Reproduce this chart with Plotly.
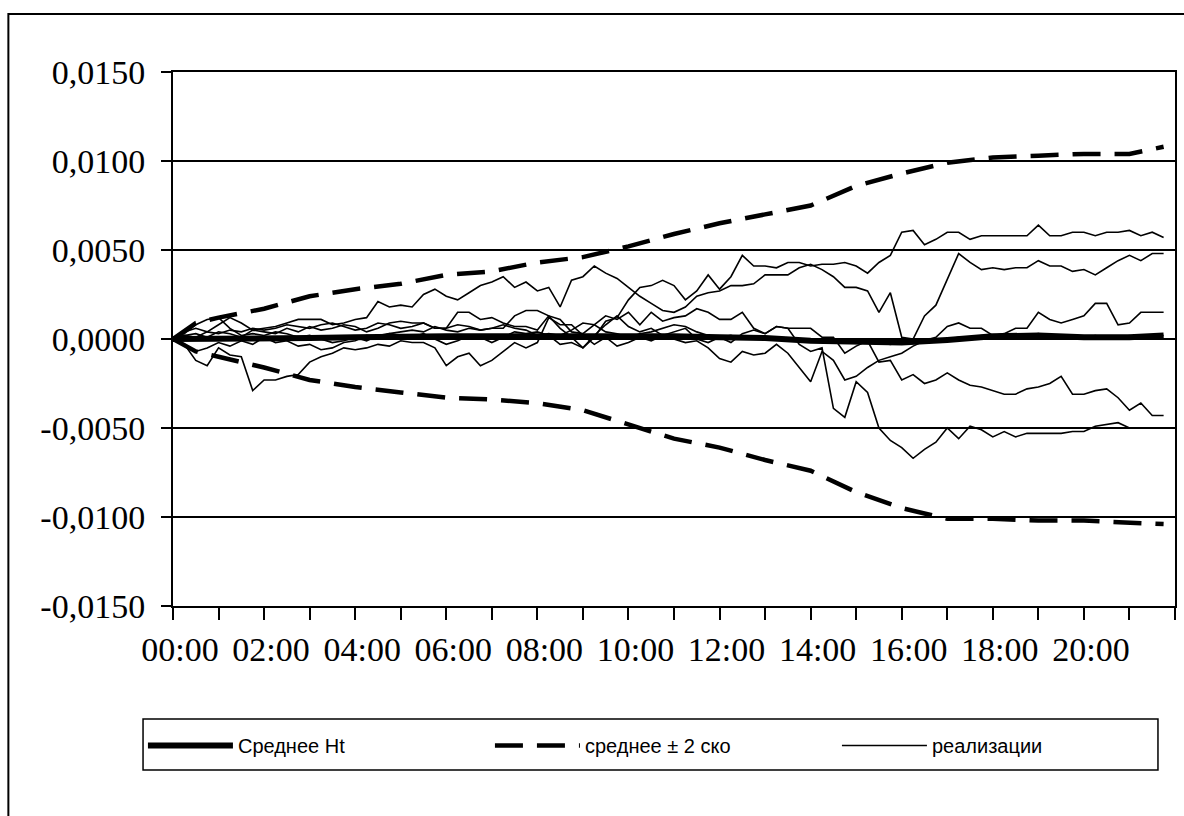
import plotly.graph_objects as go

# ---------------- data ----------------
step_hours = 0.25  # 15-minute observations
n_points = 88      # 00:00 .. 21:45

real_A = [0, 0.0002, 0.0001, 0.0004, 0.0003, 0.0005, 0.0004, 0.0006,
          0.0005, 0.0006, 0.0008, 0.0007, 0.0006, 0.0008, 0.0009, 0.0007,
          0.0005, 0.0006, 0.0009, 0.0008, 0.0006, 0.0007, 0.0009, 0.0006,
          0.0006, 0.0008, 0.0007, 0.0005, 0.0006, 0.0006, 0.0013, 0.0016,
          0.0016, 0.0013, 0.0006, 0.0001, -0.0005, 0.0001, 0.0010, 0.0012,
          0.0022, 0.0029, 0.0030, 0.0033, 0.0030, 0.0022, 0.0027, 0.0036,
          0.0028, 0.0035, 0.0047, 0.0041, 0.0041, 0.0040, 0.0043, 0.0043,
          0.0041, 0.0042, 0.0042, 0.0043, 0.0041, 0.0037, 0.0043, 0.0047,
          0.0060, 0.0061, 0.0053, 0.0056, 0.0060, 0.0060, 0.0056, 0.0058,
          0.0058, 0.0058, 0.0058, 0.0058, 0.0064, 0.0058, 0.0058, 0.0060,
          0.0060, 0.0058, 0.0060, 0.0060, 0.0061, 0.0058, 0.0060, 0.0057]

real_B = [0, 0.0004, 0.0006, 0.0004, 0.0008, 0.0012, 0.0009, 0.0005,
          0.0006, 0.0007, 0.0009, 0.0011, 0.0011, 0.0011, 0.0008, 0.0009,
          0.0011, 0.0012, 0.0021, 0.0018, 0.0019, 0.0018, 0.0025, 0.0028,
          0.0024, 0.0022, 0.0026, 0.0030, 0.0032, 0.0035, 0.0029, 0.0032,
          0.0027, 0.0029, 0.0018, 0.0033, 0.0035, 0.0041, 0.0037, 0.0034,
          0.0029, 0.0024, 0.0020, 0.0016, 0.0015, 0.0018, 0.0024, 0.0026,
          0.0027, 0.0030, 0.0030, 0.0031, 0.0036, 0.0036, 0.0036, 0.0040,
          0.0042, 0.0039, 0.0035, 0.0029, 0.0029, 0.0027, 0.0015, 0.0026,
          0.0001, 0.0000, 0.0013, 0.0019, 0.0033, 0.0048, 0.0043, 0.0039,
          0.0040, 0.0039, 0.0040, 0.0040, 0.0044, 0.0041, 0.0041, 0.0038,
          0.0039, 0.0036, 0.0040, 0.0044, 0.0047, 0.0044, 0.0048, 0.0048]

real_D = [0, -0.0003, -0.0012, -0.0015, -0.0005, -0.0009, -0.0010, -0.0029,
          -0.0023, -0.0023, -0.0021, -0.0020, -0.0013, -0.0010, -0.0008, -0.0005,
          -0.0006, -0.0005, -0.0003, -0.0004, -0.0001, -0.0002, -0.0002, -0.0005,
          -0.0015, -0.0010, -0.0008, -0.0015, -0.0012, -0.0007, -0.0002, -0.0005,
          -0.0002, 0.0012, 0.0008, 0.0008, 0.0002, -0.0003, 0.0001, -0.0004,
          -0.0002, 0.0001, -0.0001, 0.0002, 0.0000, -0.0002, -0.0001, -0.0005,
          -0.0011, -0.0013, -0.0007, -0.0009, -0.0008, -0.0003, -0.0008, -0.0016,
          -0.0024, -0.0007, -0.0012, -0.0023, -0.0021, -0.0016, -0.0012, -0.0010,
          -0.0008, -0.0004, -0.0001, 0.0001, 0.0007, 0.0009, 0.0006, 0.0006,
          0.0002, 0.0003, 0.0006, 0.0006, 0.0015, 0.0011, 0.0009, 0.0011,
          0.0013, 0.0020, 0.0020, 0.0008, 0.0009, 0.0015, 0.0015, 0.0015]

real_E = [0, 0.0002, 0.0003, 0.0001, 0.0004, 0.0003, 0.0001, 0.0005,
          0.0004, 0.0003, 0.0006, 0.0004, 0.0007, 0.0005, 0.0006, 0.0008,
          0.0007, 0.0004, 0.0006, 0.0009, 0.0010, 0.0009, 0.0009, 0.0006,
          0.0006, 0.0015, 0.0015, 0.0011, 0.0012, 0.0009, 0.0007, 0.0007,
          0.0005, 0.0013, 0.0011, 0.0004, 0.0003, 0.0008, 0.0013, 0.0011,
          0.0015, 0.0008, 0.0015, 0.0010, 0.0012, 0.0013, 0.0017, 0.0015,
          0.0011, 0.0011, 0.0015, 0.0006, 0.0003, 0.0007, 0.0006, 0.0006,
          0.0006, 0.0001, 0.0001, -0.0008, -0.0004, -0.0001, -0.0013, -0.0012,
          -0.0023, -0.0020, -0.0025, -0.0023, -0.0019, -0.0023, -0.0026, -0.0027,
          -0.0029, -0.0031, -0.0031, -0.0028, -0.0027, -0.0025, -0.0021, -0.0031,
          -0.0031, -0.0029, -0.0028, -0.0033, -0.0040, -0.0036, -0.0043, -0.0043]

real_F = [0, -0.0004, -0.0007, -0.0005, -0.0002, -0.0004, -0.0001, -0.0003,
          0.0001, -0.0002, -0.0001, -0.0004, -0.0003, -0.0006, -0.0005, -0.0002,
          -0.0001, 0.0002, 0.0001, 0.0003, 0.0002, 0.0001, 0.0003, 0.0000,
          -0.0003, -0.0001, 0.0002, 0.0001, -0.0002, 0.0001, 0.0004, 0.0003,
          0.0004, 0.0002, -0.0003, -0.0002, -0.0005, 0.0002, 0.0008, 0.0013,
          0.0007, 0.0004, 0.0006, 0.0002, 0.0004, 0.0006, 0.0000, -0.0002,
          0.0001, -0.0002, 0.0003, 0.0005, 0.0003, 0.0007, 0.0006, -0.0003,
          -0.0007, -0.0005, -0.0039, -0.0044, -0.0024, -0.0030, -0.0050, -0.0057,
          -0.0061, -0.0067, -0.0062, -0.0058, -0.0050, -0.0056, -0.0049, -0.0051,
          -0.0055, -0.0052, -0.0055, -0.0053, -0.0053, -0.0053, -0.0053, -0.0052,
          -0.0052, -0.0049, -0.0048, -0.0047, -0.0050, -0.0050, -0.0050, -0.0050]

real_G = [0, 0.0003, 0.0008, 0.0011, 0.0012, 0.0006, 0.0002, 0.0003,
          0.0002, 0.0004, 0.0003, 0.0001, 0.0002, 0.0000, -0.0002, -0.0001,
          0.0001, -0.0001, 0.0002, 0.0003, 0.0004, 0.0005, 0.0004, 0.0007,
          0.0005, 0.0004, 0.0006, 0.0005, 0.0006, 0.0008, 0.0006, 0.0005,
          0.0002, 0.0003, 0.0002, 0.0005, 0.0009, 0.0008, 0.0004, 0.0003,
          0.0001, 0.0003, 0.0004, 0.0006, 0.0008, 0.0007, 0.0004, 0.0002,
          0.0001, 0.0002, 0.0000, 0.0001, 0.0000, 0.0001, -0.0001, 0.0000,
          -0.0001, -0.0002, -0.0001, -0.0002, -0.0002, -0.0001, -0.0002, -0.0003,
          -0.0002, -0.0001, -0.0002, -0.0001, 0.0000, 0.0001, 0.0001, 0.0002,
          0.0002, 0.0001, 0.0002, 0.0002, 0.0003, 0.0002, 0.0002, 0.0001,
          0.0001, 0.0002, 0.0001, 0.0001, 0.0002, 0.0001, 0.0002, 0.0002]

band_hours = [0, 0.5, 1, 2, 3, 4, 5, 6, 7, 8, 9, 10, 11, 12, 13, 14, 15, 16,
              17, 18, 19, 20, 21, 21.75]
mean_Ht = [0, 0.0, 0.0, 0.0, 0.00005, 0.0001, 0.00015, 0.00015, 0.00015,
           0.00017, 0.00017, 0.00017, 0.00015, 0.0001, 0.00005, -0.0001,
           -0.00015, -0.0002, -0.00005, 0.00015, 0.0002, 0.0001, 0.0001, 0.0002]
upper_2sd = [0, 0.0009, 0.0012, 0.0017, 0.0024, 0.0028, 0.0031, 0.0036, 0.0038,
             0.0043, 0.0046, 0.0052, 0.0059, 0.0065, 0.0070, 0.0075, 0.0086,
             0.0093, 0.0099, 0.0102, 0.0103, 0.0104, 0.0104, 0.0108]
lower_2sd = [0, -0.0007, -0.0010, -0.0016, -0.0023, -0.0027, -0.0030, -0.0033,
             -0.0034, -0.0036, -0.0040, -0.0048, -0.0056, -0.0061, -0.0068,
             -0.0074, -0.0086, -0.0095, -0.0101, -0.0101, -0.0102, -0.0102,
             -0.0103, -0.0104]

y_tick_vals = [-0.015, -0.010, -0.005, 0.0, 0.005, 0.010, 0.015]
y_tick_text = ["-0,0150", "-0,0100", "-0,0050", "0,0000", "0,0050", "0,0100", "0,0150"]
x_tick_vals = list(range(0, 23))
x_tick_text = ["00:00", "", "02:00", "", "04:00", "", "06:00", "", "08:00", "",
               "10:00", "", "12:00", "", "14:00", "", "16:00", "", "18:00", "",
               "20:00", "", ""]

legend_names = ["Среднее Ht", "среднее ± 2 ско", "реализации"]

# ---------------- figure ----------------
hours = [i * step_hours for i in range(n_points)]
fig = go.Figure()

realizations = [real_A, real_B, real_D, real_E, real_F, real_G]
for k, r in enumerate(realizations):
    fig.add_trace(go.Scatter(
        x=hours, y=r, mode="lines", name=legend_names[2],
        line=dict(color="black", width=1.6), legendgroup="real",
        showlegend=(k == 0), legendrank=3))

fig.add_trace(go.Scatter(
    x=band_hours, y=upper_2sd, mode="lines", name=legend_names[1],
    line=dict(color="black", width=4.5, dash="28px,14px"),
    legendgroup="band", showlegend=True, legendrank=2))
fig.add_trace(go.Scatter(
    x=band_hours, y=lower_2sd, mode="lines", name=legend_names[1],
    line=dict(color="black", width=4.5, dash="28px,14px"),
    legendgroup="band", showlegend=False))
fig.add_trace(go.Scatter(
    x=band_hours, y=mean_Ht, mode="lines", name=legend_names[0],
    line=dict(color="black", width=6), legendgroup="mean",
    showlegend=True, legendrank=1))

serif = "Liberation Serif, Times New Roman, serif"
fig.update_layout(
    width=1184, height=816,
    margin=dict(l=173, r=7, t=72, b=210),
    paper_bgcolor="white", plot_bgcolor="white",
    font=dict(family=serif, size=34, color="black"),
    showlegend=True,
    legend=dict(
        orientation="h", x=-0.03, y=-0.2247, xanchor="left", yanchor="top",
        borderwidth=0, bgcolor="rgba(0,0,0,0)",
        font=dict(family="Liberation Sans, Arial, sans-serif", size=20),
        entrywidth=247, entrywidthmode="pixels", itemwidth=85,
        traceorder="normal"),
    xaxis=dict(
        range=[0, 22], tickmode="array", tickvals=x_tick_vals, ticktext=x_tick_text,
        showgrid=False, zeroline=False, showline=True, linecolor="black",
        linewidth=2, mirror=True, ticks="outside", ticklen=12, tickwidth=2,
        tickcolor="black", ticklabelstandoff=0, ticklabelshift=7,
        tickfont=dict(family=serif, size=34)),
    yaxis=dict(
        range=[-0.015, 0.015], tickmode="array", tickvals=y_tick_vals,
        ticktext=y_tick_text, showgrid=True, gridcolor="black", gridwidth=2,
        zeroline=False, showline=True, linecolor="black", linewidth=2,
        mirror=True, ticks="outside", ticklen=10, tickwidth=2,
        tickcolor="black", ticklabelstandoff=9,
        tickfont=dict(family=serif, size=34)),
    shapes=[
        # outer chart-area frame
        dict(type="rect", xref="paper", yref="paper",
             x0=-0.1643, x1=1.02, y0=-0.45, y1=1.1086,
             line=dict(color="black", width=2), layer="below"),
        # legend frame
        dict(type="rect", xref="paper", yref="paper",
             x0=-0.0299, x1=0.983, y0=-0.3071, y1=-0.2116,
             line=dict(color="black", width=1.5), layer="below"),
    ],
)

fig.write_html("out.html")
